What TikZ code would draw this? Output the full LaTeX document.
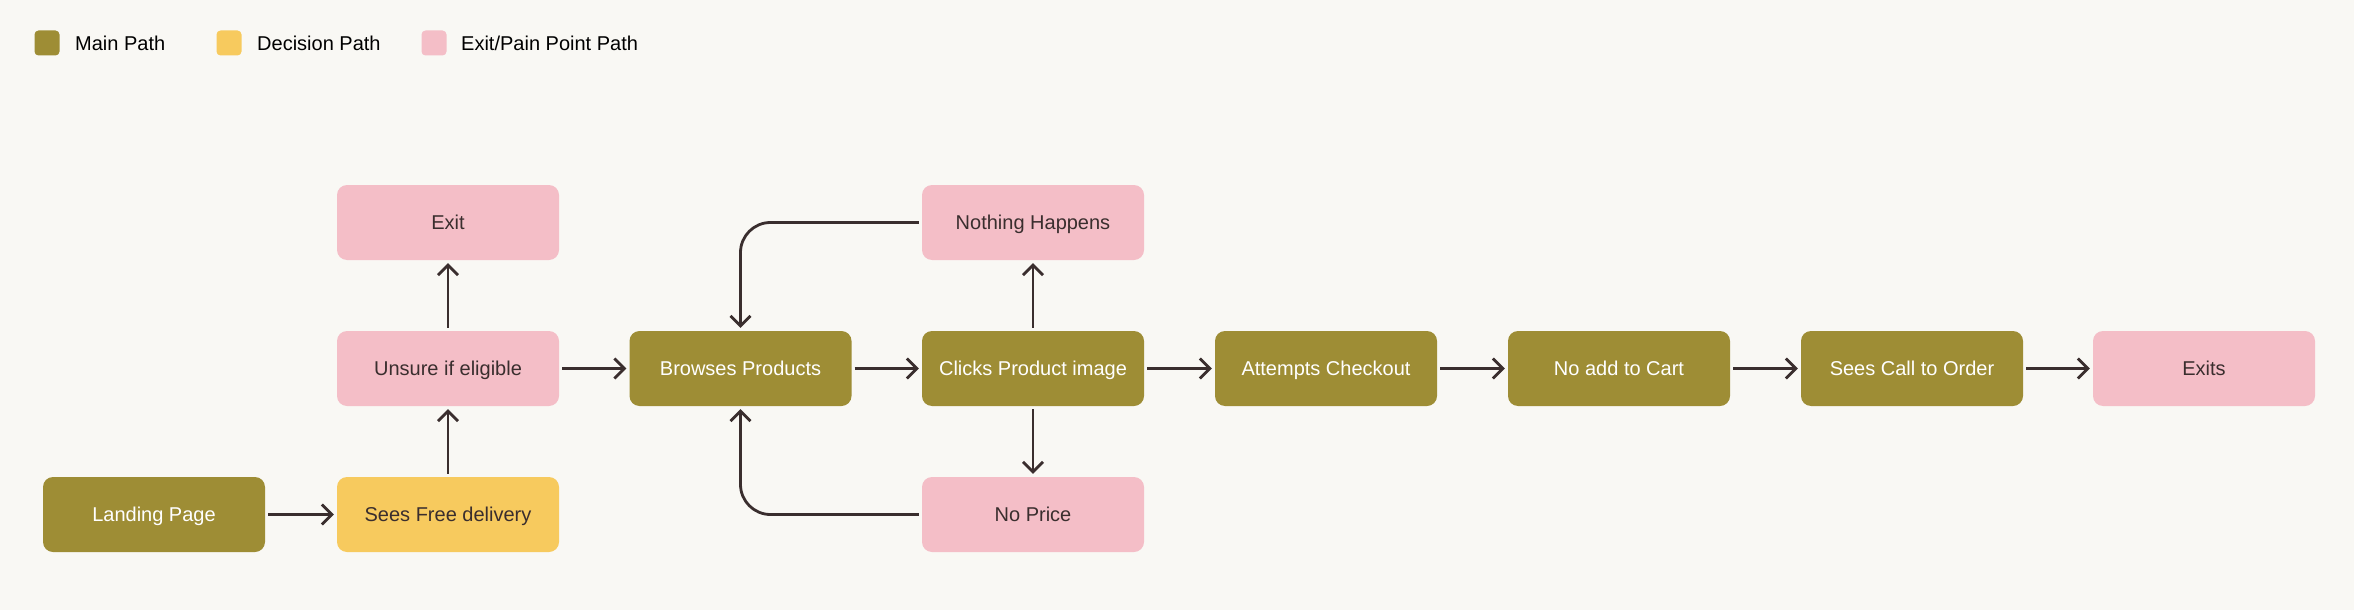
\documentclass[tikz,border=0pt]{standalone}
\usepackage{fontspec}
\setmainfont{Liberation Sans}
\usetikzlibrary{arrows.meta}
\definecolor{bg}{HTML}{F9F8F4}
\definecolor{mainc}{HTML}{9E8D35}
\definecolor{decc}{HTML}{F7CA5E}
\definecolor{painc}{HTML}{F4BEC7}
\definecolor{ink}{HTML}{3A2E2E}
\tikzset{
  box/.style={rounded corners=10pt, minimum width=222pt, minimum height=75pt, inner sep=0pt,
    text height=14.4pt, text depth=0pt, font=\fontsize{20}{24}\selectfont},
  mainbox/.style={box, fill=mainc, text=white},
  decbox/.style={box, fill=decc, text=ink},
  painbox/.style={box, fill=painc, text=ink},
  arr/.style={draw=ink, line width=2.8pt, shorten <=3pt, shorten >=3pt,
    -{Straight Barb[length=10pt, width=20pt, line width=2.8pt]}},
  loop/.style={arr, rounded corners=30pt},
  legsq/.style={rounded corners=4pt, minimum width=25pt, minimum height=25pt, inner sep=0pt},
  legtxt/.style={anchor=west, inner sep=0pt, text=black, text height=14.4pt, text depth=0pt,
    font=\fontsize{20}{24}\selectfont},
}
\begin{document}
\begin{tikzpicture}[x=1pt, y=-1pt]
\useasboundingbox[fill=bg] (0,0) rectangle (2354,610);
% legend
\node[legsq, fill=mainc] (lg1) at (47,43) {};
\node[legtxt] (lt1) at (75,43.5) {Main Path};
\node[legsq, fill=decc] (lg2) at (229,43) {};
\node[legtxt] (lt2) at (257,43.5) {Decision Path};
\node[legsq, fill=painc] (lg3) at (434,43) {};
\node[legtxt] (lt3) at (461,43.5) {Exit/Pain Point Path};
% nodes
\node[mainbox] (land) at (154,514.5) {Landing Page};
\node[decbox] (free) at (448,514.5) {Sees Free delivery};
\node[painbox] (unsure) at (448,368.5) {Unsure if eligible};
\node[painbox] (exit) at (448,222.5) {Exit};
\node[mainbox] (browse) at (740.5,368.5) {Browses Products};
\node[mainbox] (click) at (1033,368.5) {Clicks Product image};
\node[painbox] (nothing) at (1033,222.5) {Nothing Happens};
\node[painbox] (noprice) at (1033,514.5) {No Price};
\node[mainbox] (checkout) at (1326,368.5) {Attempts Checkout};
\node[mainbox] (nocart) at (1619,368.5) {No add to Cart};
\node[mainbox] (call) at (1912,368.5) {Sees Call to Order};
\node[painbox] (exits) at (2204,368.5) {Exits};
% connectors
\draw[arr] (land) -- (free);
\draw[arr] (free) -- (unsure);
\draw[arr] (unsure) -- (exit);
\draw[arr] (unsure) -- (browse);
\draw[arr] (browse) -- (click);
\draw[arr] (click) -- (nothing);
\draw[arr] (click) -- (noprice);
\draw[loop] (nothing.west) -| (browse.north);
\draw[loop] (noprice.west) -| (browse.south);
\draw[arr] (click) -- (checkout);
\draw[arr] (checkout) -- (nocart);
\draw[arr] (nocart) -- (call);
\draw[arr] (call) -- (exits);
\end{tikzpicture}
\end{document}
